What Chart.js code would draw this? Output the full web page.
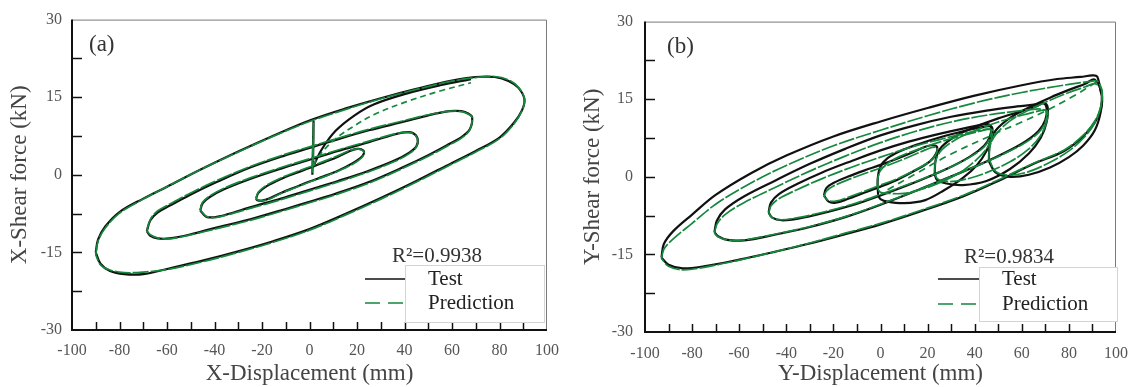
<!DOCTYPE html>
<html>
<head>
<meta charset="utf-8">
<script src="https://cdn.jsdelivr.net/npm/chart.js@4.4.1/dist/chart.umd.min.js"></script>
<style>
    html, body { margin: 0; padding: 0; background: #fff; }
    #wrap { display: flex; width: 1140px; height: 387px; }
    canvas { display: block; }
</style>
</head>
<body>
<div id="wrap">
    <canvas id="chartA" width="570" height="387"></canvas>
    <canvas id="chartB" width="570" height="387"></canvas>
</div>
<script>
// ---- panel (a): X direction, displacement (mm) / shear force (kN) ----
// each loop: upper branch left->right, then lower branch right->left (closed at the left tip)
const aLoop1X    = [-22.5, -21.5, -18, -12, -6, 0, 6, 12, 17, 20, 22, 23, 22, 18, 12, 6, 0, -6, -12, -17, -20, -22];
const aLoop1Test = [-4.6, -3.5, -2.2, -0.8, 0.3, 1.3, 2.4, 3.5, 4.6, 5.0, 4.9, 4.4, 3.5, 2.2, 0.8, -0.3, -1.3, -2.4, -3.5, -4.6, -5.0, -4.9];
const aLoop1Pred = [-4.5, -3.3, -2.0, -0.6, 0.5, 1.5, 2.6, 3.7, 4.7, 5.0, 4.8, 4.3, 3.3, 2.0, 0.7, -0.4, -1.4, -2.5, -3.6, -4.7, -5.0, -4.8];

const aLoop2X    = [-46, -45, -42, -36, -25, -12, 0, 12, 25, 35, 40, 43.5, 45.5, 45, 42, 36, 25, 12, 0, -12, -25, -35, -40, -43.5];
const aLoop2Test = [-6.9, -5.5, -4.3, -2.8, -0.8, 1.2, 2.9, 4.6, 6.3, 7.7, 8.2, 8.1, 7.0, 5.5, 4.3, 2.8, 0.8, -1.2, -2.9, -4.6, -6.3, -7.7, -8.2, -8.1];
const aLoop2Pred = [-6.8, -5.3, -4.1, -2.6, -0.6, 1.4, 3.1, 4.8, 6.5, 7.8, 8.2, 8.0, 7.0, 5.4, 4.1, 2.6, 0.6, -1.4, -3.1, -4.8, -6.5, -7.8, -8.3, -8.0];

const aLoop3X    = [-68.5, -67, -64, -59, -50, -40, -25, -10, 0, 10, 25, 40, 50, 59, 64, 67, 68.5, 67.5, 64, 59, 50, 40, 25, 10, 0, -10, -25, -40, -50, -59, -64, -67];
const aLoop3Test = [-10.9, -8.8, -7.3, -6.0, -3.8, -1.6, 1.4, 3.8, 5.2, 6.6, 8.6, 10.3, 11.5, 12.3, 12.3, 11.8, 11.1, 8.8, 7.3, 6.0, 3.8, 1.6, -1.4, -3.8, -5.2, -6.6, -8.6, -10.3, -11.5, -12.3, -12.3, -11.8];
const aLoop3Pred = [-10.8, -8.6, -7.0, -5.7, -3.5, -1.3, 1.6, 4.0, 5.4, 6.8, 8.8, 10.5, 11.6, 12.3, 12.2, 11.7, 11.1, 8.7, 7.1, 5.8, 3.6, 1.4, -1.6, -4.0, -5.4, -6.8, -8.8, -10.5, -11.6, -12.4, -12.2, -11.6];

const aLoop4X    = [-90, -89, -86, -80, -70, -60, -45, -30, -15, 0, 15, 30, 45, 60, 70, 78, 84, 88, 90.5, 89.5, 86, 80, 70, 60, 45, 30, 15, 0, -15, -30, -45, -60, -70, -78, -84, -88];
const aLoop4Test = [-15, -12.5, -10, -7.2, -4.6, -2.3, 1.2, 4.5, 7.6, 10.5, 12.8, 14.8, 16.6, 18.2, 18.9, 18.9, 18.1, 16.8, 14.6, 12.5, 10, 7.2, 4.6, 2.3, -1.2, -4.5, -7.6, -10.5, -12.8, -14.8, -16.6, -18.2, -19.2, -19.2, -18.6, -17.2];
const aLoop4Pred = [-15.5, -12.8, -10.3, -7.4, -4.7, -2.3, 1.2, 4.4, 7.5, 10.3, 12.6, 14.7, 16.5, 18.1, 18.8, 19.0, 18.3, 16.9, 14.7, 12.4, 9.8, 7.0, 4.4, 2.1, -1.4, -4.7, -7.8, -10.7, -13.0, -15.0, -16.8, -18.3, -18.8, -18.9, -18.4, -17.4];

// start of test near the origin and the first loading path
const aSpikeX    = [1.2, 1.7, 1.5];
const aSpikeTest = [0, 10.3, 2.5];
const aSpikePred = [0.4, 10.0, 2.0];
const aFanX      = [1.5, 5, 11, 19, 27, 40, 55, 68];
const aFanTest   = [1.5, 4.8, 8.5, 11.5, 13.6, 15.6, 17.3, 18.5];
const aFanPred   = [1.8, 4.2, 7.0, 9.5, 11.6, 14.0, 16.2, 17.8];

// ---- panel (b): Y direction ----
const bLoop1X    = [-24, -23, -20, -14, -7, 0, 7, 14, 19, 22, 24, 23.5, 21, 15, 7, 0, -7, -14, -19, -22];
const bLoop1Test = [-3.6, -2.2, -1.2, 0, 1.2, 2.3, 3.5, 4.8, 5.8, 6.1, 5.8, 4.4, 3.0, 1.3, -0.6, -1.9, -3.1, -4.3, -5.0, -4.8];
const bLoop1Pred = [-3.8, -2.8, -1.8, -0.6, 0.6, 1.7, 2.9, 4.2, 5.2, 5.7, 5.6, 4.3, 3.0, 1.4, -0.4, -1.6, -2.8, -4.0, -4.7, -4.6];

const bLoop2X    = [-47.5, -46.5, -43, -35, -25, -12, 0, 12, 25, 35, 42, 45.5, 47, 46.5, 44, 38, 28, 15, 0, -12, -25, -35, -42, -46];
const bLoop2Test = [-6.9, -5.0, -3.3, -1.3, 0.8, 3.1, 5.1, 6.8, 8.3, 9.3, 10.0, 10.2, 9.6, 7.8, 6.0, 3.9, 1.5, -1.0, -3.6, -5.5, -7.1, -8.1, -8.4, -7.9];
const bLoop2Pred = [-7.0, -5.6, -4.2, -2.4, -0.4, 1.9, 3.8, 5.6, 7.2, 8.3, 9.0, 9.2, 9.0, 7.5, 5.8, 3.8, 1.5, -0.9, -3.4, -5.3, -6.9, -7.9, -8.3, -7.9];

const bLoop3X    = [-70.5, -69.5, -66, -58, -45, -30, -15, 0, 15, 30, 45, 58, 66, 69, 70.5, 70, 67, 60, 48, 35, 20, 0, -15, -30, -45, -58, -65, -69];
const bLoop3Test = [-10.7, -8.5, -6.3, -3.8, -0.8, 2.5, 5.4, 8.0, 10.0, 11.6, 12.8, 13.6, 14.0, 14.3, 13.4, 11.0, 8.8, 6.4, 3.6, 1.0, -1.8, -5.4, -7.8, -9.7, -11.2, -12.3, -12.2, -11.5];
const bLoop3Pred = [-10.9, -9.2, -7.3, -5.0, -2.1, 1.1, 4.0, 6.6, 8.8, 10.6, 11.9, 12.7, 13.1, 13.0, 12.6, 10.6, 8.5, 6.2, 3.5, 1.0, -1.8, -5.3, -7.7, -9.6, -11.1, -12.2, -12.2, -11.6];

const bLoop4X    = [-93, -92, -88, -80, -70, -55, -40, -20, 0, 20, 40, 60, 75, 85, 90, 92, 93.5, 94, 93.5, 91, 86, 78, 65, 50, 35, 15, 0, -15, -30, -45, -60, -75, -84, -90];
const bLoop4Test = [-15.6, -13, -10.5, -7.3, -3.5, 0.7, 4.1, 7.8, 10.7, 13.3, 15.7, 17.7, 18.9, 19.3, 19.6, 19.4, 16.5, 15.6, 13.0, 10.5, 7.8, 5.0, 2.5, -0.8, -3.8, -7.0, -9.2, -11.1, -12.9, -14.5, -16.0, -17.3, -17.7, -17.0];
const bLoop4Pred = [-15.8, -14, -12, -9.0, -5.3, -1.2, 2.2, 6.0, 9.0, 11.8, 14.3, 16.3, 17.5, 18.2, 18.5, 18.5, 17.5, 16.5, 13.5, 10.8, 8.0, 5.2, 2.6, -0.6, -3.6, -6.8, -9.0, -10.9, -12.8, -14.5, -16.1, -17.5, -18.0, -17.3];

// loops shifted to the positive side
const bOffAX    = [-1, -1.2, 0, 3, 8, 16, 25, 35, 42, 46, 47.5, 47, 45, 41, 35, 27, 19, 10, 3, 0];
const bOffATest = [-3.6, -0.5, 2.0, 3.6, 4.9, 6.3, 7.6, 8.8, 9.5, 9.8, 9.4, 7.5, 5.0, 2.3, -0.2, -2.6, -4.5, -5.1, -4.8, -4.3];
const bOffAPred = [-2.5, -0.5, 1.2, 2.6, 3.9, 5.3, 6.7, 8.0, 8.8, 9.2, 9.0, 7.2, 5.4, 3.4, 1.2, -0.8, -2.2, -3.2, -3.2, -3.0];

const bOffBX    = [23, 23.5, 26, 32, 40, 50, 60, 66, 69.5, 71, 70.5, 68, 63, 55, 45, 35, 28, 24];
const bOffBTest = [0.5, 3.5, 5.8, 7.9, 9.6, 11.3, 12.7, 13.6, 14.3, 13.4, 10.5, 7.5, 4.5, 1.5, -0.8, -1.6, -1.3, -0.6];
const bOffBPred = [1.0, 3.2, 5.2, 7.2, 8.9, 10.6, 11.9, 12.6, 12.9, 12.6, 10.6, 8.0, 5.4, 2.9, 0.8, -0.6, -0.9, -0.3];

const bOffCX    = [46, 46.5, 49, 55, 63, 72, 80, 87, 91, 94, 93.5, 91, 86, 80, 72, 63, 55, 49];
const bOffCTest = [3.0, 6.5, 9.0, 11.4, 13.4, 15.3, 16.8, 18.0, 18.8, 15.8, 12.5, 9.0, 6.0, 3.8, 1.8, 0.4, 0.0, 0.8];
const bOffCPred = [3.5, 6.0, 8.2, 10.8, 12.9, 14.8, 16.3, 17.4, 18.0, 16.8, 13.5, 10.4, 7.4, 5.0, 2.8, 1.0, 0.3, 1.0];

const bBoneX    = [3, 15, 30, 49, 60, 70, 82, 92];
const bBonePred = [-2.5, 0.6, 4.4, 8.4, 10.6, 12.7, 15.6, 18.4];

// axis ticks (all drawn inward)
const xTickMarks = [-90, -80, -70, -60, -50, -40, -30, -20, -10, 0, 10, 20, 30, 40, 50, 60, 70, 80, 90];
const yTickMarks = [-22.5, -15, -7.5, 0, 7.5, 15, 22.5];

const SERIF = "'Liberation Serif', 'Times New Roman', serif";
const TEST_COLOR = "#111111";
const PRED_COLOR = "#14883c";

function toPoints(xs, ys, closed) {
    const pts = xs.map((x, i) => ({ x: x, y: ys[i] }));
    if (closed) pts.push({ x: xs[0], y: ys[0] });
    return pts;
}

function testSet(xs, ys, closed) {
    return { data: toPoints(xs, ys, closed), borderColor: TEST_COLOR, borderWidth: 2.2, order: 2 };
}

function predSet(xs, ys, closed, dash) {
    return { data: toPoints(xs, ys, closed), borderColor: PRED_COLOR, borderWidth: 1.7, borderDash: dash || [16, 2], order: 1 };
}

// frame, inward ticks, panel tag, R² note and legend
const decor = {
    id: "decor",
    afterDatasetsDraw(chart, args, o) {
        const { ctx, chartArea: a, scales: { x, y } } = chart;
        ctx.save();
        ctx.strokeStyle = "#7a7a7a";
        ctx.lineWidth = 1;
        ctx.beginPath();
        ctx.moveTo(a.left, a.top + 0.5);
        ctx.lineTo(a.right - 0.5, a.top + 0.5);
        ctx.lineTo(a.right - 0.5, a.bottom);
        ctx.stroke();

        ctx.strokeStyle = "#111";
        ctx.lineWidth = 2;
        ctx.beginPath();
        ctx.moveTo(a.left, a.top);
        ctx.lineTo(a.left, a.bottom);
        ctx.lineTo(a.right, a.bottom);
        ctx.stroke();

        ctx.lineWidth = 1.5;
        xTickMarks.forEach(v => {
            const p = Math.round(x.getPixelForValue(v)) + 0.5;
            ctx.beginPath(); ctx.moveTo(p, a.bottom); ctx.lineTo(p, a.bottom - 8); ctx.stroke();
        });
        yTickMarks.forEach(v => {
            const p = Math.round(y.getPixelForValue(v)) + 0.5;
            ctx.beginPath(); ctx.moveTo(a.left, p); ctx.lineTo(a.left + 10, p); ctx.stroke();
        });

        ctx.fillStyle = "#333";
        ctx.textBaseline = "middle";
        ctx.textAlign = "left";
        ctx.font = "23px " + SERIF;
        ctx.fillText(o.tag, o.tagX, o.tagY);

        ctx.font = "21px " + SERIF;
        ctx.textAlign = "center";
        ctx.fillText(o.r2, o.r2X, o.r2Y);

        const b = o.box;
        ctx.fillStyle = "#fff";
        ctx.fillRect(b[0], b[1], b[2] - b[0], b[3] - b[1]);
        ctx.strokeStyle = "#d4d4d4";
        ctx.lineWidth = 1;
        ctx.strokeRect(b[0] + 0.5, b[1] + 0.5, b[2] - b[0], b[3] - b[1]);

        ctx.strokeStyle = TEST_COLOR;
        ctx.lineWidth = 1.6;
        ctx.beginPath(); ctx.moveTo(o.lineX0, o.testY); ctx.lineTo(o.lineX1, o.testY); ctx.stroke();
        ctx.strokeStyle = PRED_COLOR;
        ctx.setLineDash([15, 8]);
        ctx.beginPath(); ctx.moveTo(o.lineX0, o.predY); ctx.lineTo(o.lineX1, o.predY); ctx.stroke();
        ctx.setLineDash([]);

        ctx.fillStyle = "#222";
        ctx.textAlign = "left";
        ctx.fillText("Test", o.textX, o.testY);
        ctx.fillText("Prediction", o.textX, o.predY);
        ctx.restore();
    }
};

function makePanel(id, datasets, c) {
    return new Chart(document.getElementById(id), {
        type: "scatter",
        data: { datasets },
        options: {
            responsive: false,
            animation: false,
            events: [],
            showLine: true,
            layout: { padding: { top: c.top, right: 14, left: 0, bottom: 0 } },
            elements: {
                point: { radius: 0 },
                line: { tension: 0.35, fill: false }
            },
            plugins: {
                legend: { display: false },
                tooltip: { enabled: false },
                decor: c.decor
            },
            scales: {
                x: {
                    type: "linear", min: -100, max: 100,
                    grid: { display: false, drawTicks: false },
                    border: { display: false },
                    ticks: { stepSize: 20, padding: c.xPad, color: "#555", font: { family: SERIF, size: 16 }, maxRotation: 0, autoSkip: false },
                    title: { display: true, text: c.xTitle, color: "#444", font: { family: SERIF, size: 23, lineHeight: 1.1 }, padding: { top: 0, bottom: 0 } },
                    afterFit(s) { s.height = c.xHeight; }
                },
                y: {
                    type: "linear", min: -30, max: 30,
                    grid: { display: false, drawTicks: false },
                    border: { display: false },
                    ticks: { stepSize: 15, padding: c.yPad, color: "#555", font: { family: SERIF, size: 16 } },
                    title: { display: true, text: c.yTitle, color: "#444", font: { family: SERIF, size: 23, lineHeight: 1.1 }, padding: { top: c.yTitlePad, bottom: 0 } },
                    afterFit(s) { s.width = c.yWidth; }
                }
            }
        },
        plugins: [decor]
    });
}

const setsA = [
    testSet(aLoop1X, aLoop1Test, true), predSet(aLoop1X, aLoop1Pred, true),
    testSet(aLoop2X, aLoop2Test, true), predSet(aLoop2X, aLoop2Pred, true),
    testSet(aLoop3X, aLoop3Test, true), predSet(aLoop3X, aLoop3Pred, true),
    testSet(aLoop4X, aLoop4Test, true), predSet(aLoop4X, aLoop4Pred, true),
    testSet(aSpikeX, aSpikeTest, false), predSet(aSpikeX, aSpikePred, false),
    testSet(aFanX, aFanTest, false), predSet(aFanX, aFanPred, false, [6, 4])
];

const setsB = [
    testSet(bLoop1X, bLoop1Test, true), predSet(bLoop1X, bLoop1Pred, true),
    testSet(bLoop2X, bLoop2Test, true), predSet(bLoop2X, bLoop2Pred, true),
    testSet(bLoop3X, bLoop3Test, true), predSet(bLoop3X, bLoop3Pred, true),
    testSet(bLoop4X, bLoop4Test, true), predSet(bLoop4X, bLoop4Pred, true),
    testSet(bOffAX, bOffATest, true), predSet(bOffAX, bOffAPred, true),
    testSet(bOffBX, bOffBTest, true), predSet(bOffBX, bOffBPred, true),
    testSet(bOffCX, bOffCTest, true), predSet(bOffCX, bOffCPred, true),
    predSet(bBoneX, bBonePred, false, [7, 5])
];

makePanel("chartA", setsA, {
    top: 17, xHeight: 57, yWidth: 72, yTitlePad: 7, xPad: 11, yPad: 10,
    xTitle: "X-Displacement (mm)", yTitle: "X-Shear force (kN)",
    decor: {
        tag: "(a)", tagX: 89, tagY: 45,
        r2: "R²=0.9938", r2X: 437, r2Y: 256,
        box: [405, 265, 544, 322],
        lineX0: 365, lineX1: 405, testY: 279, predY: 303, textX: 428
    }
});

makePanel("chartB", setsB, {
    top: 16, xHeight: 55, yWidth: 75, yTitlePad: 10, xPad: 12, yPad: 12,
    xTitle: "Y-Displacement (mm)", yTitle: "Y-Shear force (kN)",
    decor: {
        tag: "(b)", tagX: 97, tagY: 47,
        r2: "R²=0.9834", r2X: 439, r2Y: 257,
        box: [409, 267, 547, 321],
        lineX0: 368, lineX1: 409, testY: 279, predY: 304, textX: 432
    }
});
</script>
</body>
</html>
